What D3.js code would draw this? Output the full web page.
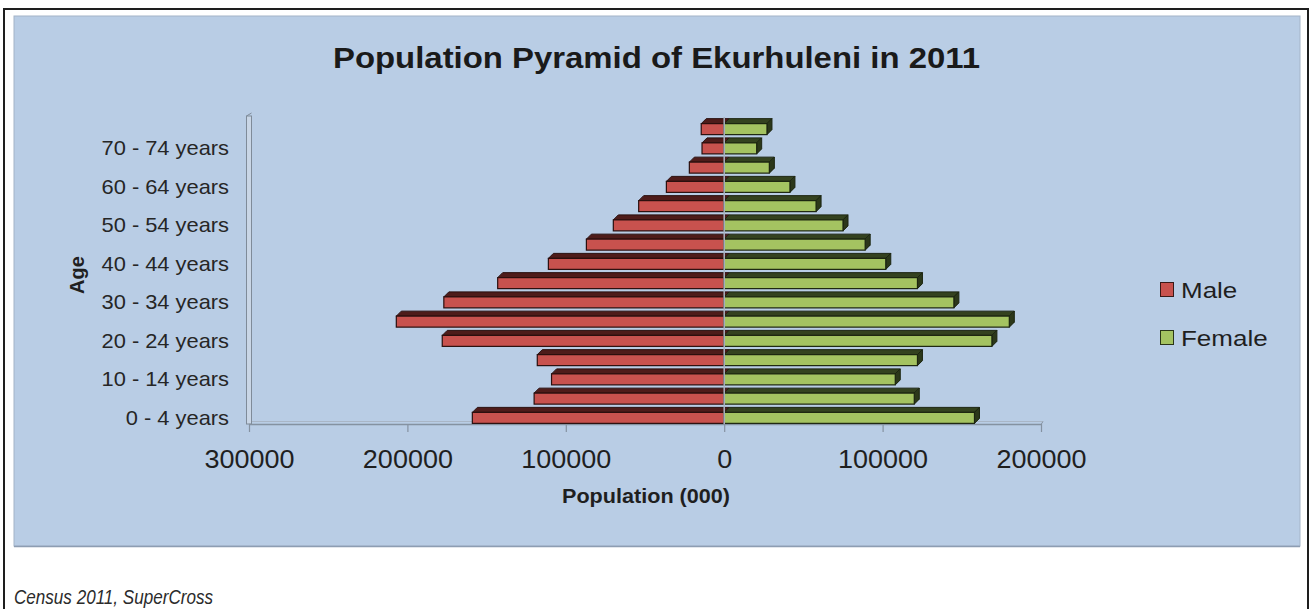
<!DOCTYPE html>
<html>
<head>
<meta charset="utf-8">
<script src="https://cdn.jsdelivr.net/npm/d3@7/dist/d3.min.js"></script>
<style>
  html, body { margin: 0; padding: 0; background: #ffffff; }
  svg { display: block; }
  text { font-family: "Liberation Sans", Arial, sans-serif; }
</style>
</head>
<body>
<svg id="chart" width="1311" height="609"></svg>
<script>
// Age groups, bottom to top
const ageGroups = [
  "0 - 4 years", "5 - 9 years", "10 - 14 years", "15 - 19 years",
  "20 - 24 years", "25 - 29 years", "30 - 34 years", "35 - 39 years",
  "40 - 44 years", "45 - 49 years", "50 - 54 years", "55 - 59 years",
  "60 - 64 years", "65 - 69 years", "70 - 74 years", "75+ years"
];
// Population per age group
const male = [159000, 120000, 109000, 118000, 178000, 207000, 177000, 143000,
              111000, 87000, 70000, 54000, 36500, 22000, 14000, 14500];
const female = [158000, 120000, 108000, 122000, 169000, 180000, 145000, 122000,
                102000, 89000, 75000, 58000, 41500, 28500, 20500, 27000];
// Age labels printed on the vertical axis (every second group)
const ageTickLabels = ["0 - 4 years", "10 - 14 years", "20 - 24 years", "30 - 34 years",
                       "40 - 44 years", "50 - 54 years", "60 - 64 years", "70 - 74 years"];
// Population axis ticks (male side is negative)
const popTicks = [-300000, -200000, -100000, 0, 100000, 200000];
const seriesNames = ["Male", "Female"];

const svg = d3.select("#chart");

// Stretch a text node horizontally by a factor
function stretch(sel, factor) {
  sel.each(function () {
    const w = this.getComputedTextLength();
    this.setAttribute("textLength", (w * factor).toFixed(1));
    this.setAttribute("lengthAdjust", "spacingAndGlyphs");
  });
}

// Page frame
svg.append("rect")
  .attr("x", 4).attr("y", 9).attr("width", 1304).attr("height", 610)
  .attr("fill", "#ffffff").attr("stroke", "#1e1e1e").attr("stroke-width", 2);

// Chart area
svg.append("rect")
  .attr("x", 14).attr("y", 16).attr("width", 1286).attr("height", 530)
  .attr("fill", "#b9cde5").attr("stroke", "#a4b4c8").attr("stroke-width", 1);
svg.append("line")
  .attr("x1", 14).attr("x2", 1300).attr("y1", 546.5).attr("y2", 546.5)
  .attr("stroke", "#8d9db2").attr("stroke-width", 1.5);

// Title
svg.append("text")
  .attr("x", 333).attr("y", 68)
  .attr("font-size", 30).attr("font-weight", "bold").attr("fill", "#1a1a1a")
  .attr("textLength", 647).attr("lengthAdjust", "spacingAndGlyphs")
  .text("Population Pyramid of Ekurhuleni in 2011");

// Scales
const x = d3.scaleLinear().domain([-300000, 200000]).range([249, 1041]);
const y = d3.scaleBand().domain(ageGroups).range([425, 117]).paddingInner(0).paddingOuter(0);

// Side wall of the plot (3D)
const wall = svg.append("g");
wall.append("rect")
  .attr("x", 246.5).attr("y", 116).attr("width", 5).attr("height", 308)
  .attr("fill", "#c9d6e6").attr("stroke", "#7f8b99").attr("stroke-width", 1);
wall.append("line")
  .attr("x1", 246.5).attr("x2", 251.5).attr("y1", 116).attr("y2", 113)
  .attr("stroke", "#7f8b99").attr("stroke-width", 1);

// Floor line and back edge
svg.append("line")
  .attr("x1", 249).attr("x2", 1041).attr("y1", 424.5).attr("y2", 424.5)
  .attr("stroke", "#8592a1").attr("stroke-width", 1.5);
svg.append("line")
  .attr("x1", 252).attr("x2", 1043).attr("y1", 421.5).attr("y2", 421.5)
  .attr("stroke", "#a9b6c6").attr("stroke-width", 1);
svg.append("line")
  .attr("x1", 1041).attr("x2", 1043).attr("y1", 424.5).attr("y2", 421.5)
  .attr("stroke", "#8592a1").attr("stroke-width", 1);

// Bottom axis (ticks and labels)
const xAxis = d3.axisBottom(x)
  .tickValues(popTicks)
  .tickFormat(d => String(Math.abs(d)))
  .tickSizeInner(8).tickSizeOuter(0).tickPadding(16);
const gx = svg.append("g").attr("transform", "translate(0,424)").call(xAxis);
gx.select(".domain").remove();
gx.selectAll(".tick line").attr("stroke", "#8592a1").attr("stroke-width", 1.2);
gx.selectAll(".tick text")
  .attr("font-family", "'Liberation Sans', Arial, sans-serif")
  .attr("font-size", 25).attr("fill", "#1f1f1f")
  .attr("dy", null).attr("y", 44);
stretch(gx.selectAll(".tick text"), 1.08);

// Left axis labels
const yAxis = d3.axisLeft(y).tickValues(ageTickLabels).tickSize(0).tickPadding(0);
const gy = svg.append("g").attr("transform", "translate(229,0)").call(yAxis);
gy.select(".domain").remove();
gy.selectAll(".tick text")
  .attr("font-family", "'Liberation Sans', Arial, sans-serif")
  .attr("font-size", 21).attr("fill", "#262626")
  .attr("x", 0).attr("dy", null).attr("y", 9.5);
stretch(gy.selectAll(".tick text"), 1.04);

// 3D bars: front face, top face and end face
const depthX = 5, depthY = 5, frontH = 11;
const half = y.bandwidth() / 2;

function drawBars(values, cls, colors, side) {
  const g = svg.append("g").attr("class", cls);
  const rows = g.selectAll("g").data(values.map((v, i) => ({ age: ageGroups[i], v })))
    .join("g");
  rows.each(function (d) {
    const row = d3.select(this);
    const c = y(d.age) + half;
    const y0 = c - 3, y1 = y0 + frontH;
    const xa = side < 0 ? x(-d.v) : x(0);
    const xb = side < 0 ? x(0) : x(d.v);
    // top face
    row.append("path")
      .attr("d", `M${xa},${y0} L${xb},${y0} L${xb + depthX},${y0 - depthY} L${xa + depthX},${y0 - depthY} Z`)
      .attr("fill", colors.top).attr("stroke", colors.edge).attr("stroke-width", 1);
    // end face (visible on the right side only)
    if (side > 0) {
      row.append("path")
        .attr("d", `M${xb},${y0} L${xb + depthX},${y0 - depthY} L${xb + depthX},${y1 - depthY} L${xb},${y1} Z`)
        .attr("fill", colors.side).attr("stroke", colors.edge).attr("stroke-width", 1);
    }
    // front face
    row.append("rect")
      .attr("x", xa).attr("y", y0).attr("width", xb - xa).attr("height", frontH)
      .attr("fill", colors.front).attr("stroke", colors.edge).attr("stroke-width", 1.2);
  });
}

drawBars(male, "male", { front: "#c8524e", top: "#4e1c1a", side: "#4a1a18", edge: "#2a0f0e" }, -1);
drawBars(female, "female", { front: "#a4c361", top: "#34421f", side: "#2c381a", edge: "#1c2510" }, 1);

// Zero line
svg.append("line")
  .attr("x1", x(0)).attr("x2", x(0)).attr("y1", 117).attr("y2", 424)
  .attr("stroke", "#aab4c2").attr("stroke-width", 1.5);

// Axis titles
const xt = svg.append("text")
  .attr("x", 646).attr("y", 503).attr("text-anchor", "middle")
  .attr("font-size", 20).attr("font-weight", "bold").attr("fill", "#1f1f1f")
  .text("Population (000)");
stretch(xt, 1.08);

svg.append("text")
  .attr("transform", "translate(84,275) rotate(-90)")
  .attr("text-anchor", "middle")
  .attr("font-size", 20).attr("font-weight", "bold").attr("fill", "#1f1f1f")
  .text("Age");

// Legend
const legendColors = { Male: { fill: "#c8524e", stroke: "#3a1a18" }, Female: { fill: "#a4c361", stroke: "#2a3518" } };
const legendY = [282, 330];
const lg = svg.append("g");
seriesNames.forEach((name, i) => {
  lg.append("rect")
    .attr("x", 1160.5).attr("y", legendY[i] + 0.5).attr("width", 13).attr("height", 14)
    .attr("fill", legendColors[name].fill).attr("stroke", legendColors[name].stroke).attr("stroke-width", 1);
  const t = lg.append("text")
    .attr("x", 1181).attr("y", legendY[i] + 15.5)
    .attr("font-size", 22).attr("fill", "#1f1f1f")
    .text(name);
  stretch(t, 1.18);
});

// Source note
svg.append("text")
  .attr("x", 14).attr("y", 604)
  .attr("font-family", "Lato, 'Open Sans', sans-serif")
  .attr("font-style", "italic").attr("font-size", 20).attr("fill", "#2b2b2b")
  .attr("textLength", 199).attr("lengthAdjust", "spacingAndGlyphs")
  .text("Census 2011, SuperCross");
</script>
</body>
</html>
